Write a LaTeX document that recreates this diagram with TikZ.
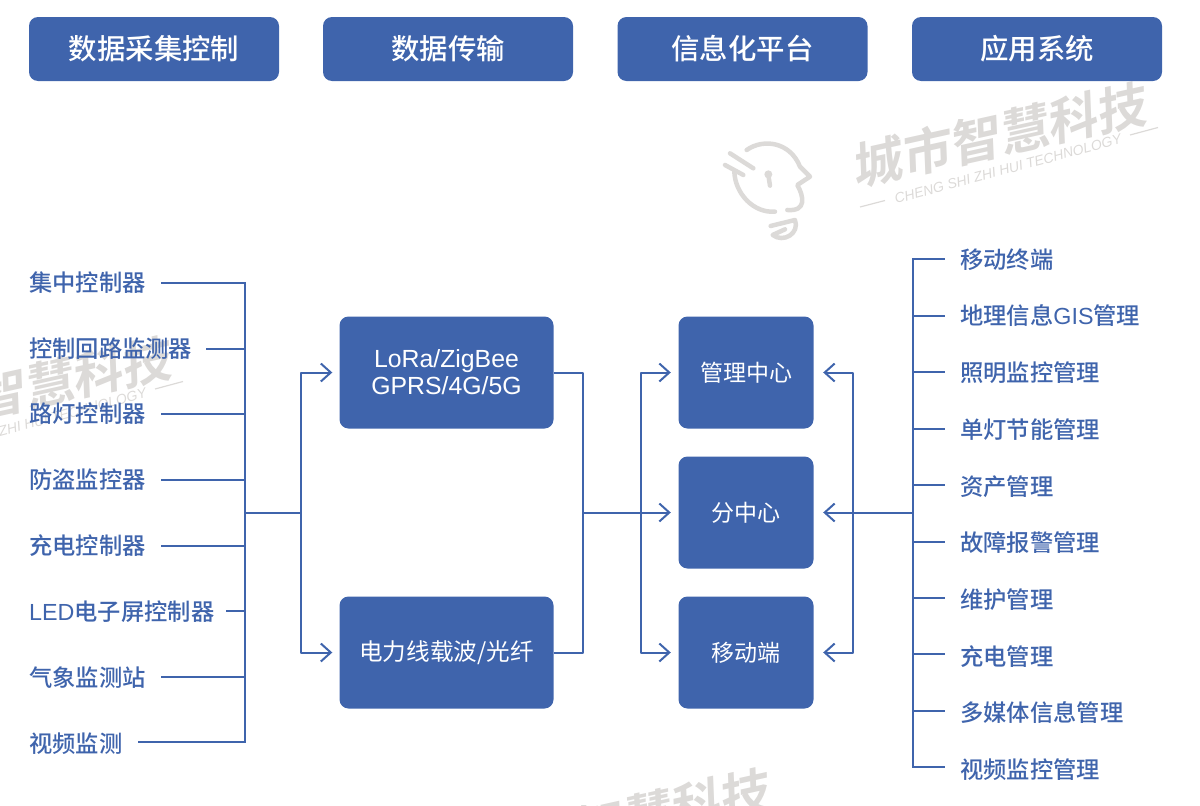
\documentclass[tikz,border=0pt]{standalone}
\usepackage{fontspec}
\setmainfont{Noto Sans CJK SC}
\newfontfamily\medfont{Noto Sans CJK SC Medium}
\newfontfamily\latfont{Liberation Sans}
\newfontfamily\wmfont[FakeSlant=0.18]{Noto Sans CJK SC Bold}
\usetikzlibrary{arrows.meta}
\definecolor{bluemain}{HTML}{3F64AC}
\definecolor{wm}{HTML}{DCDAD8}
\tikzset{
  x=1pt,y=-1pt,
  boxbase/.style={fill=bluemain,text=white,rounded corners=9pt,inner sep=0pt,align=center},
  headbox/.style={boxbase,minimum width=250pt,minimum height=64pt,font=\medfont\fontsize{28.4}{32}\selectfont},
  midbox/.style={boxbase,minimum width=214pt,minimum height=112pt,font=\fontsize{23.6}{27}\selectfont},
  cenbox/.style={boxbase,minimum width=135pt,minimum height=112pt,font=\fontsize{23}{26}\selectfont},
  lab/.style={anchor=west,inner sep=0pt,text=bluemain,text height=20pt,text depth=4pt,font=\medfont\fontsize{23.3}{26}\selectfont},
  conn/.style={draw=bluemain,line width=2pt,line join=round},
  arr/.style={conn,-{Straight Barb[length=10pt,width=18pt,line width=2pt]}},
  wmtext/.style={text=wm,inner sep=0pt,rotate=12.5,font=\wmfont\fontsize{50}{54}\selectfont},
  wmsub/.style={text=wm,inner sep=0pt,rotate=15,font=\latfont\itshape\fontsize{14}{16}\selectfont},
  wmline/.style={draw=wm,line width=1.2pt},
}
\newcommand{\wmark}[3]{%
  \begin{scope}[shift={(#1,#2)}]
    \node[wmtext] (wt#3) at (998,135) {城市智慧科技};
    \node[wmsub] (ws#3) at (1008,169) {CHENG SHI ZHI HUI TECHNOLOGY};
    \coordinate (wa#3) at (860,207);
    \coordinate (wb#3) at (885,200.5);
    \coordinate (wc#3) at (1130,135);
    \coordinate (wd#3) at (1158,127.5);
    \draw[wmline] (wa#3) -- (wb#3);
    \draw[wmline] (wc#3) -- (wd#3);
  \end{scope}}
\begin{document}
\begin{tikzpicture}
\useasboundingbox (0,0) rectangle (1200,806);
\begin{scope}
  \clip (0,0) rectangle (1200,806);
  \wmark{0}{0}{A}
  \wmark{-975}{254}{B}
  \wmark{-377}{686}{C}
\end{scope}
% logo
\begin{scope}[shift={(700,70)},x=0.3333pt,y=-0.3333pt,draw=wm,line width=4.5pt,line cap=round,line join=round]
  \draw (103,305) .. controls (105,370) and (160,430) .. (225,425);
  \draw (140,240) .. controls (190,205) and (270,215) .. (300,290) -- (330,320) -- (292,345) .. controls (312,380) and (320,425) .. (262,420);
  \draw (212,468) -- (285,450) .. controls (300,490) and (250,520) .. (218,495) -- (255,478);
  \draw (75,285) -- (130,315);
  \draw (90,250) -- (160,295);
  \draw (205,315) -- (210,347);
  \fill[wm] (205,313) circle (4pt);
\end{scope}
% header boxes
\node[headbox] (h1) at (154,49) {\raisebox{0.8pt}{数据采集控制}};
\node[headbox] (h2) at (448,49) {\raisebox{0.8pt}{数据传输}};
\node[headbox] (h3) at (742.5,49) {\raisebox{0.8pt}{信息化平台}};
\node[headbox] (h4) at (1037,49) {\raisebox{0.8pt}{应用系统}};
% middle boxes
\node[midbox] (m1) at (446.5,372.5) {\latfont\fontsize{24.8}{27}\selectfont LoRa/ZigBee\\\latfont\fontsize{24.8}{27}\selectfont GPRS/4G/5G};
\node[midbox] (m2) at (446.5,652.5) {\raisebox{-1pt}{电力线载波/光纤}};
\node[cenbox] (c1) at (746,372.5) {\raisebox{-1pt}{管理中心}};
\node[cenbox] (c2) at (746,512.5) {\raisebox{1.5pt}{分中心}};
\node[cenbox] (c3) at (746,652.5) {\raisebox{-1pt}{移动端}};
% left labels
\node[lab] (l1) at (29,283) {集中控制器};
\node[lab] (l2) at (29,349) {控制回路监测器};
\node[lab] (l3) at (29,414) {路灯控制器};
\node[lab] (l4) at (29,480) {防盗监控器};
\node[lab] (l5) at (29,546) {充电控制器};
\node[lab] (l6) at (29,612) {\latfont LED\medfont 电子屏控制器};
\node[lab] (l7) at (29,678) {气象监测站};
\node[lab] (l8) at (29,744) {视频监测};
% right labels
\node[lab] (r1) at (960,260) {移动终端};
\node[lab] (r2) at (960,316) {地理信息\latfont GIS\medfont 管理};
\node[lab] (r3) at (960,373) {照明监控管理};
\node[lab] (r4) at (960,430) {单灯节能管理};
\node[lab] (r5) at (960,487) {资产管理};
\node[lab] (r6) at (960,543) {故障报警管理};
\node[lab] (r7) at (960,600) {维护管理};
\node[lab] (r8) at (960,657) {充电管理};
\node[lab] (r9) at (960,713) {多媒体信息管理};
\node[lab] (r10) at (960,770) {视频监控管理};
% left bus
\coordinate (lbt) at (245,282.7);
\coordinate (lbb) at (245,742);
\coordinate (lbm) at (245,512.5);
\draw[conn,line cap=rect] (lbt) -- (lbb);
\foreach \n/\s/\y in {1/161/282.7,2/206/348.5,3/161/414,4/161/479.7,5/161/545.5,6/226/611,7/161/676.5,8/138/742}{
  \coordinate (ls\n) at (\s,\y);
  \draw[conn] (ls\n) -- (245,\y);
}
% to middle boxes
\coordinate (v1) at (301,512.5);
\draw[conn] (lbm) -- (v1);
\draw[arr] (v1) |- ([xshift=-7pt]m1.west);
\draw[arr] (v1) |- ([xshift=-7pt]m2.west);
% middle boxes out
\coordinate (v2) at (583,512.5);
\draw[conn] (m1.east) -| (v2);
\draw[conn] (m2.east) -| (v2);
\draw[arr] (v2) -- ([xshift=-7.5pt]c2.west);
\coordinate (v3) at (641,512.5);
\draw[arr] (v3) |- ([xshift=-7.5pt]c1.west);
\draw[arr] (v3) |- ([xshift=-7.5pt]c3.west);
% right bus
\coordinate (rbm) at (913,512.5);
\coordinate (v4) at (853,512.5);
\draw[arr] (rbm) -- ([xshift=9.5pt]c2.east);
\draw[arr] (v4) |- ([xshift=9.5pt]c1.east);
\draw[arr] (v4) |- ([xshift=9.5pt]c3.east);
\coordinate (rbt) at (913,259);
\coordinate (rbb) at (913,767);
\draw[conn,line cap=rect] (rbt) -- (rbb);
\foreach \n/\y in {1/259,2/315.5,3/372,4/428.5,5/485,6/541.5,7/598,8/654,9/710.5,10/767}{
  \coordinate (rs\n) at (945,\y);
  \draw[conn] (913,\y) -- (rs\n);
}
\end{tikzpicture}
\end{document}
